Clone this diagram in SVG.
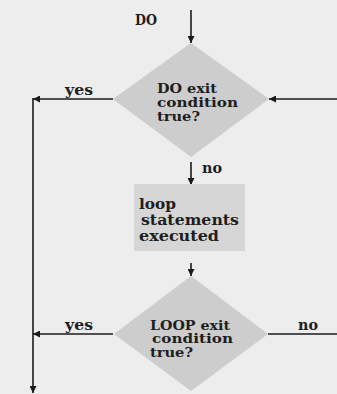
<svg xmlns="http://www.w3.org/2000/svg" width="337" height="394" viewBox="0 0 337 394">
<defs>
<marker id="ah" viewBox="0 0 10 10" refX="10" refY="5" markerWidth="7" markerHeight="7" markerUnits="userSpaceOnUse" orient="auto">
<path d="M0,0 L10,5 L0,10 z" fill="#1a1a1a"/>
</marker>
<style>
.t{font-family:"DejaVu Serif","Liberation Serif",serif;font-weight:bold;font-size:14px;fill:#1e1e1e}
.s{font-size:12.5px}
.s2{font-size:12px}
.ln{stroke:#1a1a1a;stroke-width:1.6;fill:none}
.dia{fill:#cdcdcd}
.box{fill:#d6d6d6}
</style>
</defs>
<rect width="337" height="394" fill="#ededed"/>
<g id="connectors">
<line class="ln" x1="191" y1="10" x2="191" y2="43" marker-end="url(#ah)"/>
<line class="ln" x1="113" y1="99" x2="33" y2="99" marker-end="url(#ah)"/>
<line class="ln" x1="337" y1="99" x2="269" y2="99" marker-end="url(#ah)"/>
<line class="ln" x1="33" y1="98" x2="33" y2="393" marker-end="url(#ah)"/>
<line class="ln" x1="191" y1="162" x2="191" y2="185" marker-end="url(#ah)"/>
<line class="ln" x1="191" y1="263" x2="191" y2="276" marker-end="url(#ah)"/>
<line class="ln" x1="113" y1="334" x2="33" y2="334" marker-end="url(#ah)"/>
<line class="ln" x1="268" y1="334" x2="337" y2="334"/>
<text class="t" x="135" y="25" textLength="22" lengthAdjust="spacingAndGlyphs">DO</text>
<text class="t" x="65" y="95" textLength="28" lengthAdjust="spacingAndGlyphs">yes</text>
<text class="t" x="202" y="173" textLength="20" lengthAdjust="spacingAndGlyphs">no</text>
<text class="t" x="65" y="330" textLength="28" lengthAdjust="spacingAndGlyphs">yes</text>
<text class="t" x="298" y="330" textLength="20" lengthAdjust="spacingAndGlyphs">no</text>
</g>
<g id="do-cond">
<polygon class="dia" points="191,43 269,99 191,157 113,99"/>
<text class="t s" x="157" y="93" textLength="60" lengthAdjust="spacingAndGlyphs">DO exit</text>
<text class="t s" x="157" y="107" textLength="81" lengthAdjust="spacingAndGlyphs">condition</text>
<text class="t s" x="157" y="121" textLength="43" lengthAdjust="spacingAndGlyphs">true?</text>
</g>
<g id="loop-body">
<rect class="box" x="134" y="184" width="111" height="67"/>
<text class="t" x="139" y="209" textLength="37" lengthAdjust="spacingAndGlyphs">loop</text>
<text class="t" x="141" y="225" textLength="98" lengthAdjust="spacingAndGlyphs">statements</text>
<text class="t" x="139" y="241" textLength="80" lengthAdjust="spacingAndGlyphs">executed</text>
</g>
<g id="loop-cond">
<polygon class="dia" points="191,276 268,334 191,391 114,334"/>
<text class="t s2" x="150" y="329.5" textLength="80" lengthAdjust="spacingAndGlyphs">LOOP exit</text>
<text class="t s2" x="152" y="343" textLength="81" lengthAdjust="spacingAndGlyphs">condition</text>
<text class="t s2" x="150" y="356.5" textLength="43" lengthAdjust="spacingAndGlyphs">true?</text>
</g>
</svg>
